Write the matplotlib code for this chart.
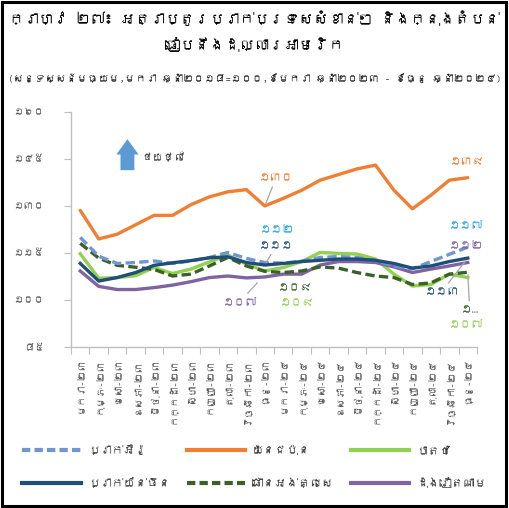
import matplotlib
matplotlib.use('Agg')
import matplotlib.pyplot as plt
from matplotlib import font_manager
from matplotlib.ft2font import FT2Font
from matplotlib.patches import Rectangle
from matplotlib.lines import Line2D


# look for any installed font that has khmer glyphs
def find_khmer_font():
    for f in font_manager.fontManager.ttflist:
        try:
            if 0x1780 in FT2Font(f.fname).get_charmap():
                return f.name
        except Exception:
            pass
    return None

kh = find_khmer_font()
fams = [kh, 'DejaVu Sans'] if kh else ['DejaVu Sans']
plt.rcParams['font.family'] = fams

months = ['មករា-២៣', 'កុម្ភៈ-២៣', 'មេសា-២៣', 'ឧសភា-២៣', 'មិថុនា-២៣', 'កក្កដា-២៣',
          'សីហា-២៣', 'កញ្ញា-២៣', 'តុលា-២៣', 'វិច្ឆិកា-២៣', 'ធ្នូ-២៣',
          'មករា-២៤', 'កុម្ភៈ-២៤', 'មេសា-២៤', 'ឧសភា-២៤', 'មិថុនា-២៤', 'កក្កដា-២៤',
          'សីហា-២៤', 'កញ្ញា-២៤', 'តុលា-២៤', 'វិច្ឆិកា-២៤', 'ធ្នូ-២៤']

eur = [120, 114, 111.7, 112, 112.5, 111.7, 112.5, 113.6, 115.2, 113.3, 112,
       111.8, 112.4, 113.6, 113.9, 113.6, 112.6, 110.9, 110, 112.3, 114.6, 116.9]
jpy = [128.6, 119.5, 121, 124, 127, 127, 130.4, 132.9, 134.5, 135.2, 130,
       132.4, 135, 138.2, 140, 141.8, 143, 135, 129.1, 133.4, 138.2, 139]
thb = [114.8, 107, 107.2, 107.8, 110.4, 108.5, 109.9, 112.2, 114.4, 111.5, 109.3,
       110.4, 112.3, 115.2, 114.9, 114.7, 113.1, 108.3, 104.5, 105, 108.3, 107.2]
cny = [111.7, 106.1, 107.2, 108.8, 111.1, 111.9, 112.6, 113.5, 113.8, 112, 111.2,
       111.7, 112.3, 112.7, 113.1, 113.1, 112.7, 111.7, 110.2, 110.9, 112.3, 113.4]
gbp = [118.1, 113.4, 111.1, 110.5, 109.8, 107.7, 108.3, 110.9, 113.6, 110.9, 109.2,
       108.8, 109.3, 110.6, 110.2, 108.8, 107.7, 107.2, 105, 105.5, 108.3, 108.9]
vnd = [109.3, 104.4, 103.4, 103.4, 104, 104.8, 105.9, 107.2, 107.7, 107.1, 107.4,
       108.3, 108.3, 111.2, 112.3, 112.3, 112, 110.6, 108.8, 109.9, 110.9, 112]

yticks = [85, 100, 115, 130, 145, 160]
ytick_labels = ['៨៥', '១០០', '១១៥', '១៣០', '១៤៥', '១៦០']

names = ['ប្រាក់អឺរ៉ូ', 'យ៉េនជប៉ុន', 'បាតថៃ', 'ប្រាក់យ័ន់ចិន', 'ផោនអង់គ្លេស', 'ដុងវៀតណាម']

title1 = 'ក្រាហ្វ ២៧៖ អត្រាប្តូរប្រាក់ប្រទេសសំខាន់ៗ និងក្នុងតំបន់'
title2 = 'ធៀបនឹងដុល្លារអាមេរិក'
subtitle = '(សន្ទស្សន៍មធ្យម,មករា ឆ្នាំ២០១៨=១០០,ខែមករា ឆ្នាំ២០២៣ - ខែធ្នូ ឆ្នាំ២០២៤)'

c_eur = '#6F96D1'
c_jpy = '#F07F32'
c_thb = '#92D050'
c_cny = '#1F4E79'
c_gbp = '#3B6128'
c_vnd = '#8064A2'
c_cyan = '#2AA6E0'
grey = '#595959'

fig = plt.figure(figsize=(5.09, 5.08), dpi=100)
rend = fig.canvas.get_renderer()


# font size that makes a string about target_px wide
def fit(s, target_px, **kw):
    t = fig.text(0, 0, s, fontsize=10, **kw)
    w = t.get_window_extent(rend).width
    t.remove()
    return 10 * target_px / w

ax = fig.add_axes([0.1395, 0.3163, 0.7976, 0.4638])

x = list(range(len(months)))
lw = 2.4
dash = (0, (2.8, 1.3))
ax.plot(x, jpy, color=c_jpy, lw=lw, solid_joinstyle='round', solid_capstyle='round')
ax.plot(x, thb, color=c_thb, lw=lw, solid_joinstyle='round')
ax.plot(x, vnd, color=c_vnd, lw=lw, solid_joinstyle='round')
ax.plot(x, gbp, color=c_gbp, lw=lw, ls=dash)
ax.plot(x, eur, color=c_eur, lw=lw, ls=dash)
ax.plot(x, cny, color=c_cny, lw=lw, solid_joinstyle='round')

fs_tick = fit('១៦០', 31)
fs_month = fit(months[0], 56)
ax.set_xlim(-0.5, len(months) - 0.5)
ax.set_ylim(85, 160)
ax.set_yticks(yticks)
ax.set_yticklabels(ytick_labels, fontsize=fs_tick, color=grey)
ax.set_xticks([i - 0.5 for i in range(len(months) + 1)])
ax.set_xticklabels([])
ax.set_xticks(x, minor=True)
ax.set_xticklabels(months, minor=True, rotation=90, fontsize=fs_month, color=grey, va='top')
ax.tick_params(axis='x', which='minor', length=0, pad=8)
ax.tick_params(axis='x', which='major', length=5, color='#BFBFBF')
ax.tick_params(axis='y', length=5, color='#BFBFBF', pad=14)
for s in ['top', 'right']:
    ax.spines[s].set_visible(False)
for s in ['left', 'bottom']:
    ax.spines[s].set_color('#BFBFBF')
    ax.spines[s].set_linewidth(1)

# value labels
lead = dict(arrowstyle='-', color='#A6A6A6', lw=0.9, shrinkA=1, shrinkB=2)
fs = fit('១៣០', 35)
ax.annotate('១៣០', xy=(10, jpy[10]), xytext=(10.6, 138.8), color=c_jpy, fontsize=fs,
            ha='center', va='center', arrowprops=lead)
ax.text(21.0, 144, '១៣៩', color=c_jpy, fontsize=fs, ha='center', va='center')
ax.text(10.7, 122.7, '១១២', color=c_cyan, fontsize=fs, ha='center', va='center')
ax.annotate('១១១', xy=(10, cny[10]), xytext=(10.6, 117.3), color=c_cny, fontsize=fs,
            ha='center', va='center', arrowprops=lead)
ax.text(11.65, 104.0, '១០៩', color=c_gbp, fontsize=fs, ha='center', va='center')
ax.text(11.75, 99.2, '១០៩', color=c_thb, fontsize=fs, ha='center', va='center')
ax.annotate('១០៧', xy=(9.7, 106.2), xytext=(8.66, 99.6), color=c_vnd, fontsize=fs,
            ha='center', va='center', arrowprops=lead)
ax.text(20.9, 124, '១១៧', color=c_cyan, fontsize=fs, ha='center', va='center')
ax.text(20.9, 117.6, '១១២', color=c_vnd, fontsize=fs, ha='center', va='center')
ax.annotate('១១៣', xy=(21, cny[21]), xytext=(19.6, 102.8), color=c_cny, fontsize=fs,
            ha='center', va='center', arrowprops=lead)
ax.annotate('១…', xy=(21, gbp[21]), xytext=(21.1, 97), color=c_gbp, fontsize=fs,
            ha='center', va='center', arrowprops=lead)
ax.text(20.9, 92.5, '១០៧', color=c_thb, fontsize=fs, ha='center', va='center')

# up arrow + note
ax.annotate('', xy=(0.139, 0.895), xytext=(0.139, 0.740), xycoords='axes fraction',
            arrowprops=dict(arrowstyle='simple,head_length=0.55,head_width=0.8,tail_width=0.5',
                            mutation_scale=20, color='#5B9BD5', lw=0))
ax.text(0.227, 0.808, 'ថយថ្លៃ', transform=ax.transAxes, fontsize=fit('ថយថ្លៃ', 44),
        color='#404040', ha='center', va='center')

# titles
fs_t = fit(title1, 490, fontweight='bold')
fig.text(0.5, 1 - 18 / 508, title1, ha='center', va='center', fontsize=fs_t, fontweight='bold')
fig.text(0.5, 1 - 45 / 508, title2, ha='center', va='center', fontsize=fs_t, fontweight='bold')
fig.text(0.5, 1 - 78 / 508, subtitle, ha='center', va='center',
         fontsize=fit(subtitle, 492), color='#262626')

# legend, row-wise order
fs_leg = fit(names[3], 82)
h = {n: Line2D([], [], color=c, lw=3, ls=l) for n, c, l in zip(
    names, [c_eur, c_jpy, c_thb, c_cny, c_gbp, c_vnd],
    [(0, (2, 1)), '-', '-', '-', (0, (2, 1)), '-'])}
order = [names[0], names[3], names[1], names[4], names[2], names[5]]
fig.legend([h[n] for n in order], order, loc='center', bbox_to_anchor=(0.5, 1 - 466 / 508),
           ncol=3, frameon=False, fontsize=fs_leg, handlelength=42 / fs_leg,
           handletextpad=5 / fs_leg, columnspacing=12 / fs_leg, labelspacing=1.9,
           labelcolor='#404040')

# outer frame
fig.add_artist(Rectangle((0.003, 0.003), 0.991, 0.994, transform=fig.transFigure,
                         fill=False, ec='black', lw=2.2))

fig.savefig('out.png', dpi=100)
